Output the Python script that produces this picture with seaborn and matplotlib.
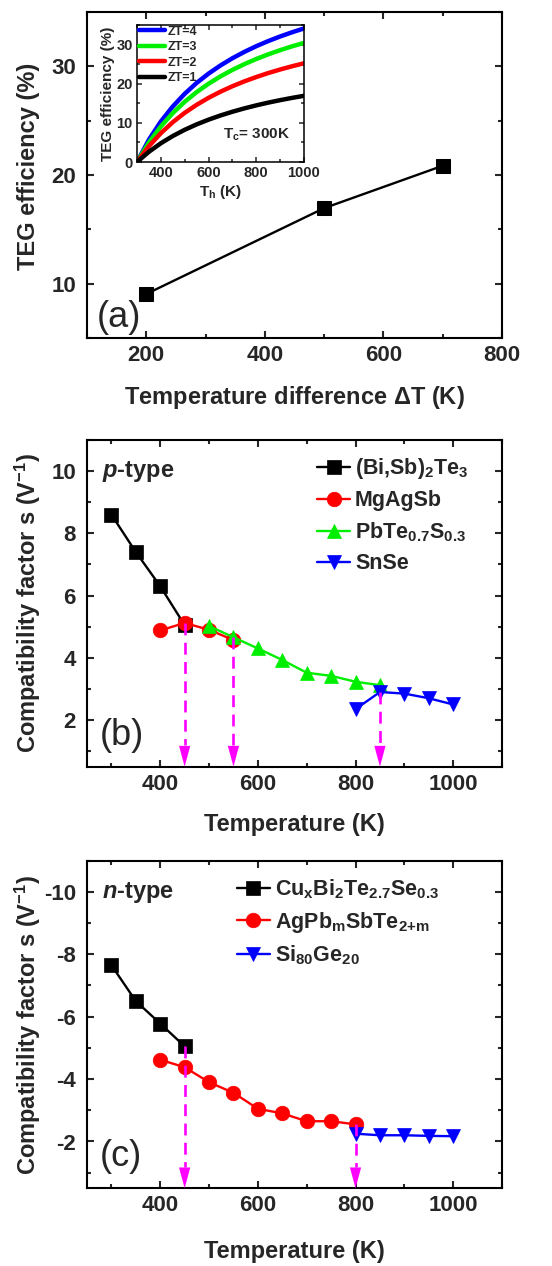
import numpy as np
import matplotlib
matplotlib.use("Agg")
import matplotlib.pyplot as plt
from matplotlib.ticker import MultipleLocator
import seaborn as sns

# ---------------- data ----------------
# (a) TEG efficiency vs temperature difference
dT = [200, 500, 700]
eff = [9.05, 16.95, 20.85]

# inset: efficiency vs hot-side temperature for several ZT (Tc = 300 K)
Th = [300, 350, 400, 450, 500, 550, 600, 650, 700, 750, 800, 850, 900, 950, 1000]
eff_zt4 = [0, 5.71, 10.35, 14.19, 17.43, 20.20, 22.59, 24.67, 26.51, 28.13, 29.59, 30.89, 32.07, 33.14, 34.12]
eff_zt3 = [0, 5.00, 9.09, 12.50, 15.38, 17.86, 20.00, 21.88, 23.53, 25.00, 26.32, 27.50, 28.57, 29.55, 30.43]
eff_zt2 = [0, 4.04, 7.37, 10.17, 12.56, 14.61, 16.40, 17.97, 19.36, 20.60, 21.71, 22.72, 23.63, 24.46, 25.22]
eff_zt1 = [0, 2.61, 4.79, 6.64, 8.23, 9.61, 10.82, 11.89, 12.84, 13.70, 14.47, 15.17, 15.80, 16.38, 16.91]
zt_labels = ["ZT=4", "ZT=3", "ZT=2", "ZT=1"]

# (b) p-type compatibility factors
T_bisbte = [300, 350, 400, 450]
s_bisbte = [8.6, 7.4, 6.3, 5.05]
T_mgagsb = [400, 450, 500, 550]
s_mgagsb = [4.88, 5.12, 4.9, 4.57]
T_pbtes = [500, 550, 600, 650, 700, 750, 800, 850]
s_pbtes = [5.02, 4.66, 4.3, 3.93, 3.52, 3.42, 3.23, 3.12]
T_snse = [800, 850, 900, 950, 1000]
s_snse = [2.35, 2.9, 2.85, 2.7, 2.5]
p_labels = [r"(Bi,Sb)$_2$Te$_3$", "MgAgSb", r"PbTe$_{0.7}$S$_{0.3}$", "SnSe"]
p_cross_T = [450, 550, 850]
p_cross_s = [5.12, 4.66, 2.9]

# (c) n-type compatibility factors
T_cubite = [300, 350, 400, 450]
s_cubite = [-7.65, -6.5, -5.78, -5.05]
T_agpb = [400, 450, 500, 550, 600, 650, 700, 750, 800]
s_agpb = [-4.62, -4.38, -3.9, -3.56, -3.05, -2.9, -2.65, -2.65, -2.55]
T_sige = [800, 850, 900, 950, 1000]
s_sige = [-2.25, -2.2, -2.2, -2.18, -2.17]
n_labels = [r"Cu$_\mathregular{x}$Bi$_2$Te$_{2.7}$Se$_{0.3}$",
            r"AgPb$_\mathregular{m}$SbTe$_{2{+}\mathregular{m}}$",
            r"Si$_{80}$Ge$_{20}$"]
n_cross_T = [450, 800]
n_cross_s = [-5.05, -2.55]

# ---------------- style ----------------
sns.set_style("ticks")
plt.rcParams.update({
    "font.family": ["Liberation Sans", "DejaVu Sans"],
    "font.weight": "bold",
    "axes.labelweight": "bold",
    "axes.unicode_minus": False,
    "mathtext.fontset": "custom",
    "mathtext.rm": "Liberation Sans:bold",
    "mathtext.bf": "Liberation Sans:bold",
    "mathtext.it": "Liberation Sans:italic:bold",
    "mathtext.default": "regular",
    "axes.linewidth": 1.5,
})

BLACK, RED, GREEN, BLUE, MAG = "#000000", "#ff0000", "#00ee00", "#0000ff", "#ff00ff"
TICK_FS, LABEL_FS, LEG_FS, PANEL_FS = 16, 17, 15.5, 26

fig = plt.figure(figsize=(5.52, 12.66), dpi=100)
W, H = 552.0, 1266.0


def px_axes(x0, y0, x1, y1):
    return fig.add_axes([x0 / W, 1 - y1 / H, (x1 - x0) / W, (y1 - y0) / H])


def style_axes(ax, tick_size=TICK_FS, major=5, minor=3, width=1.5, xpad=5, ypad=8):
    ax.tick_params(which="both", direction="in", top=True, right=True,
                   width=width, labelsize=tick_size)
    ax.tick_params(axis="x", which="both", pad=xpad)
    ax.tick_params(axis="y", which="both", pad=ypad)
    ax.tick_params(which="major", length=major)
    ax.tick_params(which="minor", length=minor)
    for lab in ax.get_xticklabels() + ax.get_yticklabels():
        lab.set_fontweight("bold")
    for sp in ax.spines.values():
        sp.set_linewidth(width)
        sp.set_color("black")


def set_labels(ax, xlabel, ylabel, xy_x, xy_y, fs=LABEL_FS):
    ax.set_xlabel(xlabel, fontsize=fs, fontweight="bold")
    ax.set_ylabel(ylabel, fontsize=fs, fontweight="bold")
    ax.xaxis.label.set_va("center")
    ax.yaxis.label.set_va("center")
    ax.xaxis.set_label_coords(*xy_x)
    ax.yaxis.set_label_coords(*xy_y)


def series(ax, x, y, color, marker, label, ms=9.5):
    sns.lineplot(x=x, y=y, ax=ax, color=color, marker=marker, markersize=ms,
                 markeredgecolor=color, markeredgewidth=0.5, linewidth=1.7,
                 label=label, sort=False, estimator=None)


def drop_arrows(ax, xs, ys):
    y0, y1 = ax.get_ylim()
    head = 0.065
    y_head_top = y0 + head * (y1 - y0)
    trans = ax.get_xaxis_transform()
    for x, y in zip(xs, ys):
        ax.plot([x, x], [y, y_head_top], color=MAG, lw=1.9,
                dashes=(4.5, 2.8), zorder=6, solid_capstyle="butt")
        ax.annotate("", xy=(x, 0), xycoords=trans,
                    xytext=(x, head), textcoords=trans,
                    arrowprops=dict(arrowstyle="-|>,head_length=1.0,head_width=0.27",
                                    mutation_scale=15, color=MAG, lw=0,
                                    shrinkA=0, shrinkB=0),
                    zorder=7)


def main_legend(ax, x_anchor):
    ax.legend(loc="upper left", bbox_to_anchor=(x_anchor, 0.95), frameon=False,
              handlelength=1.55, handletextpad=0.22, labelspacing=0.42,
              borderpad=0, borderaxespad=0,
              prop={"weight": "bold", "size": LEG_FS})


# ---------------- (a) ----------------
axa = px_axes(87, 12, 502, 338)
sns.lineplot(x=dT, y=eff, ax=axa, color=BLACK, marker="s", markersize=10,
             markeredgecolor=BLACK, linewidth=1.7, sort=False, estimator=None)
axa.set_xlim(100, 800)
axa.set_ylim(5, 35)
axa.xaxis.set_major_locator(MultipleLocator(200))
axa.xaxis.set_minor_locator(MultipleLocator(100))
axa.yaxis.set_minor_locator(MultipleLocator(5))
axa.set_yticks([10, 20, 30])
set_labels(axa, r"Temperature difference $\Delta$T (K)", "TEG efficiency (%)",
           (0.5, -0.184), (-0.142, 0.525))
style_axes(axa)
axa.text(0.024, 0.064, "(a)", transform=axa.transAxes, fontsize=PANEL_FS,
         fontweight="normal", ha="left", va="center")

# inset
axi = px_axes(137, 25, 304, 162)
for yv, col, lab in zip([eff_zt4, eff_zt3, eff_zt2, eff_zt1],
                        [BLUE, GREEN, RED, BLACK], zt_labels):
    sns.lineplot(x=Th, y=yv, ax=axi, color=col, linewidth=3.2, label=lab,
                 sort=False, estimator=None)
axi.set_xlim(300, 1000)
axi.set_ylim(0, 35)
axi.xaxis.set_minor_locator(MultipleLocator(100))
axi.set_xticks([400, 600, 800, 1000])
axi.yaxis.set_major_locator(MultipleLocator(10))
axi.yaxis.set_minor_locator(MultipleLocator(5))
set_labels(axi, r"T$_\mathregular{h}$ (K)", "TEG efficiency (%)",
           (0.5, -0.219), (-0.174, 0.5), fs=11)
style_axes(axi, tick_size=10.5, major=3.5, minor=2, width=1.1, xpad=3, ypad=3)
axi.text(0.92, 0.2, r"T$_\mathregular{c}$= 300K", transform=axi.transAxes,
         fontsize=11, fontweight="bold", ha="right", va="center")
axi.legend(loc="upper left", bbox_to_anchor=(0.012, 0.995), frameon=False,
           handlelength=2.1, handletextpad=0.2, labelspacing=0.28,
           borderpad=0, borderaxespad=0,
           prop={"weight": "bold", "size": 9})

# ---------------- (b) ----------------
axb = px_axes(87, 440, 502, 766.7)
series(axb, T_bisbte, s_bisbte, BLACK, "s", p_labels[0])
series(axb, T_mgagsb, s_mgagsb, RED, "o", p_labels[1], ms=10.5)
series(axb, T_pbtes, s_pbtes, GREEN, "^", p_labels[2], ms=10.5)
series(axb, T_snse, s_snse, BLUE, "v", p_labels[3], ms=10.5)
axb.set_xlim(250, 1100)
axb.set_ylim(0.5, 11)
axb.xaxis.set_minor_locator(MultipleLocator(100))
axb.set_xticks([400, 600, 800, 1000])
axb.yaxis.set_minor_locator(MultipleLocator(1))
axb.set_yticks([2, 4, 6, 8, 10])
set_labels(axb, "Temperature (K)", r"Compatibility factor s (V$^{-1}$)",
           (0.5, -0.178), (-0.142, 0.5))
style_axes(axb)
drop_arrows(axb, p_cross_T, p_cross_s)
main_legend(axb, 0.554)
axb.text(0.036, 0.903, r"$\mathit{p}$-type", transform=axb.transAxes,
         fontsize=17, fontweight="bold", ha="left", va="center")
axb.text(0.031, 0.097, "(b)", transform=axb.transAxes, fontsize=PANEL_FS,
         fontweight="normal", ha="left", va="center")

# ---------------- (c) ----------------
axc = px_axes(87, 860.7, 502, 1188.3)
series(axc, T_cubite, s_cubite, BLACK, "s", n_labels[0])
series(axc, T_agpb, s_agpb, RED, "o", n_labels[1], ms=10.5)
series(axc, T_sige, s_sige, BLUE, "v", n_labels[2], ms=10.5)
axc.set_xlim(250, 1100)
axc.set_ylim(-0.5, -11)
axc.xaxis.set_minor_locator(MultipleLocator(100))
axc.set_xticks([400, 600, 800, 1000])
axc.yaxis.set_minor_locator(MultipleLocator(1))
axc.set_yticks([-2, -4, -6, -8, -10])
set_labels(axc, "Temperature (K)", r"Compatibility factor s (V$^{-1}$)",
           (0.5, -0.1935), (-0.142, 0.5))
style_axes(axc)
drop_arrows(axc, n_cross_T, n_cross_s)
main_legend(axc, 0.361)
axc.text(0.036, 0.903, r"$\mathit{n}$-type", transform=axc.transAxes,
         fontsize=17, fontweight="bold", ha="left", va="center")
axc.text(0.031, 0.096, "(c)", transform=axc.transAxes, fontsize=PANEL_FS,
         fontweight="normal", ha="left", va="center")

fig.savefig("out.png", dpi=100, facecolor="white")
